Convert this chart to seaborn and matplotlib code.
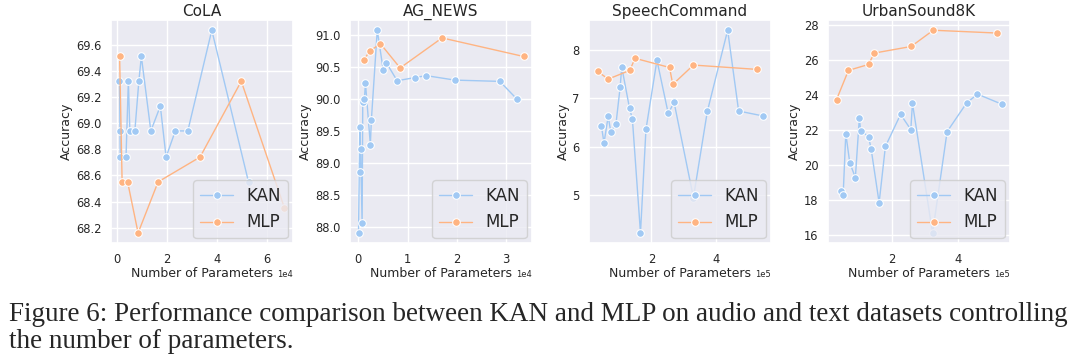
import pandas as pd
import matplotlib
matplotlib.use("Agg")
import matplotlib.pyplot as plt
import seaborn as sns

# ---- data ----
titles = ["CoLA", "AG_NEWS", "SpeechCommand", "UrbanSound8K"]

cola_kan_params = [1050, 1250, 1350, 3660, 4600, 5200, 7200, 8800, 9800,
                   13600, 17400, 19700, 23400, 28400, 38000, 52700]
cola_kan_acc = [69.32, 68.94, 68.74, 68.74, 69.32, 68.94, 68.94, 69.32, 69.51,
                68.94, 69.13, 68.74, 68.94, 68.94, 69.71, 68.55]
cola_mlp_params = [1100, 2100, 4300, 8500, 16500, 33300, 49800, 67100]
cola_mlp_acc = [69.51, 68.55, 68.55, 68.16, 68.55, 68.74, 69.32, 68.35]

ag_kan_params = [70, 330, 450, 480, 800, 930, 1270, 1470, 2470, 2670, 3870,
                 5070, 5730, 7900, 11500, 13800, 19600, 28700, 32200]
ag_kan_acc = [87.91, 89.57, 88.86, 89.22, 88.07, 89.96, 90.00, 90.26, 89.29,
              89.67, 91.08, 90.46, 90.57, 90.29, 90.34, 90.37, 90.30, 90.28, 90.00]
ag_mlp_params = [1200, 2300, 4500, 8500, 17000, 33500]
ag_mlp_acc = [90.62, 90.75, 90.87, 90.49, 90.96, 90.67]

speech_kan_params = [45000, 53000, 66000, 74000, 90000, 103000, 108000, 132000,
                     141000, 166000, 183000, 217000, 252000, 270000, 330000,
                     373000, 436000, 470000, 544000]
speech_kan_acc = [6.43, 6.08, 6.63, 6.31, 6.47, 7.23, 7.65, 6.80, 6.57, 4.22,
                  6.36, 7.79, 6.69, 6.92, 4.95, 6.73, 8.41, 6.74, 6.64]
speech_mlp_params = [33000, 66000, 133000, 149000, 256000, 266000, 330000, 528000]
speech_mlp_acc = [7.56, 7.40, 7.58, 7.83, 7.64, 7.29, 7.69, 7.60]

urban_kan_params = [45000, 53000, 61000, 73000, 90000, 102000, 106000, 130000,
                    138000, 162000, 181000, 227000, 258000, 263000, 324000,
                    368000, 427000, 460000, 533000]
urban_kan_acc = [18.52, 18.29, 21.80, 20.13, 19.28, 22.67, 21.97, 21.63, 20.89,
                 17.84, 21.06, 22.90, 22.03, 23.53, 16.11, 21.91, 23.55, 24.06, 23.49]
urban_mlp_params = [33000, 69000, 130000, 147000, 259000, 326000, 518000]
urban_mlp_acc = [23.75, 25.42, 25.76, 26.41, 26.79, 27.72, 27.56]

panels = [
    (cola_kan_params, cola_kan_acc, cola_mlp_params, cola_mlp_acc),
    (ag_kan_params, ag_kan_acc, ag_mlp_params, ag_mlp_acc),
    (speech_kan_params, speech_kan_acc, speech_mlp_params, speech_mlp_acc),
    (urban_kan_params, urban_kan_acc, urban_mlp_params, urban_mlp_acc),
]

caption_lines = [
    "Figure 6: Performance comparison between KAN and MLP on audio and text datasets controlling",
    "the number of parameters.",
]

sns.set_theme(style="darkgrid")
colors = sns.color_palette("pastel")[:2]

fig, axes = plt.subplots(1, 4, figsize=(10.8, 3.59), dpi=100)
fig.subplots_adjust(left=0.103, right=0.935, top=0.944, bottom=0.323, wspace=0.317)

for ax, title, (kp, ka, mp, ma) in zip(axes, titles, panels):
    df = pd.concat([
        pd.DataFrame({"params": kp, "acc": ka, "model": "KAN"}),
        pd.DataFrame({"params": mp, "acc": ma, "model": "MLP"}),
    ])
    sns.lineplot(data=df, x="params", y="acc", hue="model", marker="o",
                 palette=colors, linewidth=1.0, markersize=5.5, ax=ax)
    ax.set_title(title, fontsize=11, pad=3)
    ax.set_xlabel("Number of Parameters", fontsize=9, labelpad=1)
    ax.set_ylabel("Accuracy", fontsize=9, labelpad=2)
    ax.tick_params(labelsize=8.3, pad=1)
    ax.ticklabel_format(style="sci", axis="x", scilimits=(0, 0))
    ax.xaxis.get_offset_text().set_fontsize(6)
    ax.legend(loc="lower right", fontsize=12, title=None, borderaxespad=0.3)

# caption below the panels, one line at a time
for line, ybase in zip(caption_lines, [0.107, 0.032]):
    fig.text(0.008, ybase, line, fontsize=19.5, family="Liberation Serif",
             ha="left", va="baseline")

plt.savefig("out.png", dpi=100)
plt.close()
